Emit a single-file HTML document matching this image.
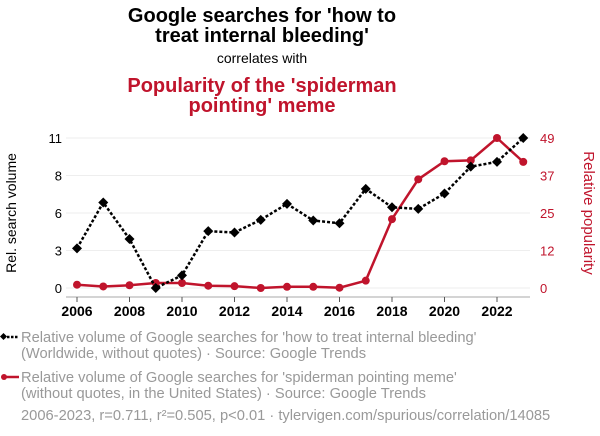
<!DOCTYPE html>
<html><head><meta charset="utf-8"><style>
body{margin:0;background:#fff;}
svg{display:block;font-family:"Liberation Sans",Arial,sans-serif;}
</style></head><body>
<svg width="600" height="436" viewBox="0 0 600 436">
<g text-anchor="middle">
<text x="262" y="22" font-size="20" font-weight="bold" fill="#000">Google searches for 'how to</text>
<text x="262" y="42" font-size="20" font-weight="bold" fill="#000">treat internal bleeding'</text>
<text x="262" y="63" font-size="14" fill="#000">correlates with</text>
<text x="262" y="92" font-size="20" font-weight="bold" fill="#c0142c">Popularity of the 'spiderman</text>
<text x="262" y="112" font-size="20" font-weight="bold" fill="#c0142c">pointing' meme</text>
</g>
<g id="grid"></g>
<g id="axes"></g>
<g id="series"></g>
<text transform="translate(16,213) rotate(-90)" text-anchor="middle" font-size="14" fill="#000">Rel. search volume</text>
<text transform="translate(584,213) rotate(90)" text-anchor="middle" font-size="15" fill="#c0142c">Relative popularity</text>
<g font-size="14.7" fill="#999">
<g>
<line x1="3" y1="337" x2="19" y2="337" stroke="#000" stroke-width="2.5" stroke-dasharray="2.5,1.5"/>
<rect x="1" y="334" width="5" height="5" transform="rotate(45 3.5 336.5)" fill="#000"/>
<text x="21" y="342">Relative volume of Google searches for 'how to treat internal bleeding'</text>
<text x="21" y="358">(Worldwide, without quotes) · Source: Google Trends</text>
</g>
<g>
<line x1="3" y1="377" x2="19" y2="377" stroke="#c0142c" stroke-width="2.5"/>
<circle cx="4" cy="377" r="3" fill="#c0142c"/>
<text x="21" y="382">Relative volume of Google searches for 'spiderman pointing meme'</text>
<text x="21" y="398">(without quotes, in the United States) · Source: Google Trends</text>
</g>
<text x="21" y="420">2006-2023, r=0.711, r²=0.505, p&lt;0.01 · tylervigen.com/spurious/correlation/14085</text>
</g>
</svg>
<script>
const years=[2006,2007,2008,2009,2010,2011,2012,2013,2014,2015,2016,2017,2018,2019,2020,2021,2022,2023];
const bleeding=[2.91,6.27,3.59,0,0.93,4.17,4.07,5.0,6.17,4.95,4.75,7.27,5.92,5.8,6.93,8.9,9.25,11];
const spiderman=[1.07,0.5,0.9,1.63,1.63,0.75,0.6,0,0.4,0.4,0.1,2.4,22.5,35.5,41.4,41.7,49,41.2];
const leftTicks=[0,2.75,5.5,8.25,11];
const leftTickLabels=["0","3","6","8","11"];
const rightTicks=[0,12.25,24.5,36.75,49];
const rightTickLabels=["0","12","25","37","49"];
const xTicks=[2006,2008,2010,2012,2014,2016,2018,2020,2022];
const NS="http://www.w3.org/2000/svg";
const x=v=>77+(v-2006)*26.25;
const yL=v=>288-v*150/11;
const yR=v=>288-v*150/49;
function mk(t,a,p){const e=document.createElementNS(NS,t);for(const k in a)e.setAttribute(k,a[k]);p.appendChild(e);return e;}
const grid=document.getElementById('grid'),axes=document.getElementById('axes'),ser=document.getElementById('series');
leftTicks.forEach((t,i)=>{
 const g=mk('line',{x1:66,x2:530,y1:yL(t),y2:yL(t),stroke:'#eee','stroke-width':1},grid);
 
 
 const l=mk('text',{x:62,y:yL(t)+5,'text-anchor':'end','font-size':13,fill:'#000'},axes);
 l.textContent=leftTickLabels[i];
 
 
});
rightTicks.forEach((t,i)=>{
 const l=mk('text',{x:540,y:yR(t)+5,'font-size':13,fill:'#c0142c'},axes);
 l.textContent=rightTickLabels[i];
 
 
});
const ax=mk('line',{x1:66,x2:530,y1:297,y2:297,stroke:'#aaa','stroke-width':1},axes);


xTicks.forEach(t=>{
 const tk=mk('line',{x1:x(t),x2:x(t),y1:297,y2:302,stroke:'#555','stroke-width':1},axes);
 
 
 const l=mk('text',{x:x(t),y:316,'text-anchor':'middle','font-size':14,'font-weight':'bold',fill:'#000'},axes);
 l.textContent=t;
 
 
});
const rp=mk('polyline',{points:years.map((yr,i)=>x(yr)+','+yR(spiderman[i])).join(' '),fill:'none',stroke:'#c0142c','stroke-width':2.5},ser);


years.forEach((yr,i)=>{
 const c=mk('circle',{cx:x(yr),cy:yR(spiderman[i]),r:4,fill:'#c0142c'},ser);
 
 
});
const bp=mk('polyline',{points:years.map((yr,i)=>x(yr)+','+yL(bleeding[i])).join(' '),fill:'none',stroke:'#000','stroke-width':2.5,'stroke-dasharray':'3,2'},ser);


years.forEach((yr,i)=>{
 const cx=x(yr),cy=yL(bleeding[i]);
 const d=mk('polygon',{points:`${cx},${cy-5} ${cx+5},${cy} ${cx},${cy+5} ${cx-5},${cy}`,fill:'#000'},ser);
 
 
});
</script>
</body></html>
